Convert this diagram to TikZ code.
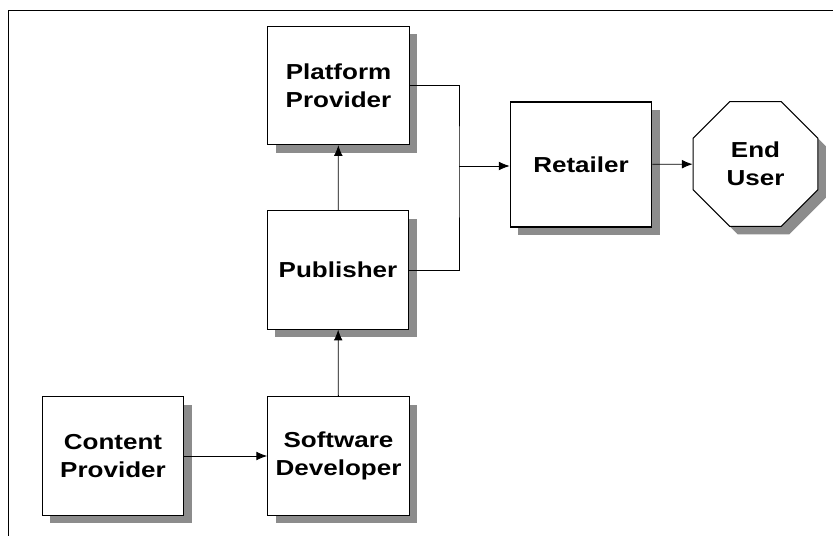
\documentclass[tikz,border=0pt]{standalone}
\usepackage{fontspec}
\setmainfont{Liberation Sans}[FakeStretch=1.2]
\usetikzlibrary{shapes.geometric,shadows,arrows.meta}

\begin{document}
\begin{tikzpicture}[x = 0.03cm, y = -0.03cm,
	stage/.style = {draw, fill = white, line width = 0.9pt, align = center,
		minimum width = 4.25cm, minimum height = 3.55cm, inner sep = 0pt,
		font = \bfseries\fontsize{18.5}{24}\selectfont,
		drop shadow = {shadow xshift = 0.24cm, shadow yshift = -0.24cm, fill = black!45, opacity = 1}},
	flow/.style = {line width = 0.7pt, -{Latex[length = 3.2mm, width = 2.6mm]}}]
	\useasboundingbox (0,0) rectangle (833,536);
	% frame
	\draw[line width = 0.8pt] (833,10) -- (8,10) -- (8,536);
	% players
	\node[stage] (PLAT) at (338.5,85.5) {Platform\\Provider};
	\node[stage] (PUB) at (338,270) {Publisher};
	\node[stage] (SOFT) at (338.5,456) {Software\\Developer};
	\node[stage] (CONT) at (113,456) {Content\\Provider};
	\node[stage, minimum height = 3.75cm] (RET) at (581,164.5) {Retailer};
	\node[stage, regular polygon, regular polygon sides = 8, minimum size = 4.05cm] (USER) at (755.5,164) {End\\User};
	\coordinate (JOIN) at (459,166);
	% value chain
	\draw[flow] (CONT) -- (SOFT);
	\draw[flow] (SOFT) -- (PUB);
	\draw[flow] (PUB) -- (PLAT);
	\draw[line width = 0.7pt] (PLAT.east) -| (JOIN) |- (PUB.east);
	\draw[flow] (JOIN) -- (JOIN -| RET.west);
	\draw[flow] (RET) -- (USER);
\end{tikzpicture}
\end{document}
